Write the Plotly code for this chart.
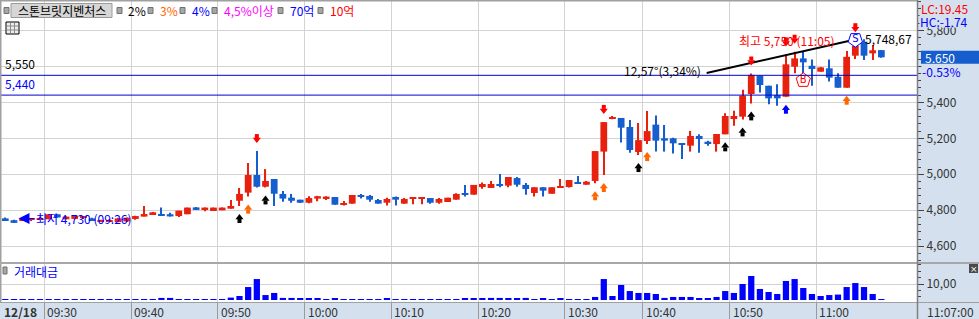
import plotly.graph_objects as go
import pandas as pd

W, H = 979, 319
FONT = "Noto Sans CJK KR"

# ---------------- data ----------------
all_minutes = pd.date_range("2023-12-18 09:25", "2023-12-18 11:07", freq="min").strftime("%H:%M").tolist()
times = [t for t in all_minutes if t != "10:36"]  # one minute without trades

opens = [4755, 4745, 4745, 4748, 4750, 4750, 4778, 4750, 4752, 4760,
         4755, 4740, 4738, 4735, 4738, 4752, 4765, 4778, 4779, 4778,
         4768, 4778, 4816, 4805, 4796, 4800, 4809, 4853, 4898, 4996,
         4931, 4974, 4891, 4870, 4859, 4842, 4865, 4865, 4874, 4833,
         4837, 4885, 4880, 4857, 4842, 4874, 4837, 4866, 4868, 4868,
         4842, 4846, 4859, 4896, 4887, 4929, 4924, 4941, 4937, 4979,
         4941, 4896, 4928, 4892, 4928, 4929, 4953, 4942, 4963, 5126,
         5308, 5313, 5263, 5124, 5185, 5276, 5200, 5200, 5167, 5159,
         5213, 5181, 5168, 5222, 5307, 5320, 5446, 5548, 5492, 5440,
         5431, 5598, 5644, 5603, 5570, 5589, 5542, 5481, 5659, 5737,
         5672, 5690]
highs = [4760, 4748, 4752, 4752, 4760, 4778, 4780, 4765, 4770, 4766,
         4758, 4748, 4745, 4758, 4760, 4770, 4824, 4790, 4815, 4787,
         4798, 4815, 4818, 4815, 4815, 4815, 4857, 4924, 5063, 5129,
         5029, 4974, 4907, 4891, 4859, 4878, 4880, 4878, 4874, 4852,
         4885, 4891, 4885, 4863, 4870, 4876, 4868, 4868, 4870, 4868,
         4868, 4870, 4894, 4941, 4941, 4954, 4963, 5002, 4985, 4985,
         4952, 4928, 4928, 4928, 4974, 4968, 4991, 4963, 5129, 5291,
         5324, 5313, 5302, 5285, 5352, 5326, 5274, 5203, 5172, 5241,
         5222, 5187, 5224, 5339, 5353, 5470, 5560, 5548, 5492, 5500,
         5666, 5681, 5681, 5638, 5596, 5638, 5561, 5685, 5720, 5750,
         5718, 5690]
lows = [4745, 4730, 4743, 4746, 4748, 4750, 4759, 4750, 4750, 4755,
        4745, 4738, 4735, 4733, 4735, 4747, 4765, 4778, 4772, 4766,
        4763, 4778, 4802, 4794, 4796, 4800, 4809, 4824, 4876, 4927,
        4927, 4824, 4848, 4842, 4840, 4839, 4850, 4857, 4831, 4826,
        4837, 4865, 4848, 4837, 4826, 4826, 4837, 4833, 4833, 4837,
        4837, 4846, 4859, 4876, 4887, 4920, 4924, 4928, 4928, 4931,
        4887, 4876, 4876, 4892, 4928, 4926, 4950, 4942, 4950, 4996,
        5306, 5176, 5120, 5107, 5168, 5126, 5126, 5116, 5085, 5126,
        5120, 5159, 5126, 5222, 5270, 5305, 5394, 5455, 5389, 5381,
        5431, 5561, 5561, 5492, 5570, 5515, 5481, 5481, 5640, 5635,
        5635, 5648]
closes = [4745, 4730, 4750, 4752, 4757, 4778, 4760, 4765, 4770, 4764,
          4746, 4745, 4743, 4755, 4759, 4768, 4779, 4789, 4772, 4766,
          4798, 4815, 4802, 4815, 4815, 4815, 4824, 4891, 4996, 4931,
          4963, 4892, 4865, 4853, 4842, 4868, 4878, 4876, 4831, 4840,
          4885, 4874, 4859, 4837, 4863, 4859, 4863, 4868, 4870, 4842,
          4863, 4870, 4891, 4887, 4941, 4946, 4946, 4937, 4985, 4942,
          4918, 4928, 4909, 4928, 4935, 4968, 4950, 4959, 5129, 5290,
          5311, 5259, 5135, 5190, 5240, 5187, 5187, 5172, 5163, 5213,
          5196, 5172, 5224, 5324, 5324, 5437, 5552, 5496, 5422, 5422,
          5611, 5644, 5622, 5585, 5594, 5537, 5481, 5653, 5715, 5659,
          5689, 5650]
trade_value = [0.5, 0.5, 0.5, 0.5, 0.5, 0.5, 0.5, 0.5, 0.5, 0.5,
               0.5, 0.5, 0.5, 0.5, 0.5, 0.5, 0.5, 0.5, 1.3, 1.3,
               0.5, 0.5, 0.5, 0.5, 0.5, 0.5, 1.5, 2.5, 8.1, 13.1,
               3.1, 4.4, 1.3, 1.3, 0.9, 0.9, 0.9, 0.5, 0.9, 0.5,
               0.5, 0.5, 0.5, 0.5, 0.9, 0.5, 0.5, 0.5, 0.5, 0.5,
               0.5, 0.5, 0.5, 0.9, 0.9, 0.9, 1.3, 1.3, 0.9, 0.9,
               1.3, 0.5, 0.9, 0.5, 0.9, 0.5, 0.5, 0.5, 1.9, 13.1,
               2.5, 9.4, 5.6, 4.4, 4.4, 3.75, 1.3, 1.9, 1.9, 1.9,
               0.9, 0.9, 1.9, 5.6, 4.4, 10.0, 15.0, 6.9, 5.0, 3.75,
               11.9, 13.1, 7.5, 3.75, 2.5, 3.1, 3.4, 8.1, 10.6, 8.1,
               3.75, 0.5]

date_label = "12/18"
tick_labels = ["09:30", "09:40", "09:50", "10:00", "10:10", "10:20", "10:30", "10:40", "10:50", "11:00"]
last_time_label = "11:07:00"
price_ticks = [4600, 4800, 5000, 5200, 5400, 5600, 5800]
volume_tick_vals = [10]
volume_tick_text = ["10,00"]

support_levels = [5550, 5440]
support_label_colors = ["#000000", "#0000FF"]
trend_x = [80.86, 98.0]
trend_y = [5563.0, 5748.67]
trend_left_text = "12,57°(3,34%)"
trend_right_text = "5,748,67"

stock_name = "스톤브릿지벤처스"
legend_texts = ["2%", "3%", "4%", "4,5%이상", "70억", "10억"]
legend_colors = ["#000000", "#FF6600", "#0000FF", "#FF00FF", "#0000FF", "#FF0000"]
lc_text = "LC:19,45"
hc_text = "HC:-1,74"
change_text = "-0,53%"
volume_title = "거래대금"

up_black = ["09:52", "09:55", "10:39", "10:49", "10:51", "10:52"]
up_orange = ["09:53", "10:33", "10:34", "10:40", "11:03"]
up_blue = ["10:56"]
down_red = ["09:54", "10:34", "10:52", "10:56", "10:57", "11:04"]
buy_mark = ["10:58"]
sell_mark = ["11:04"]

# ---------------- style ----------------
RED = "#E8210E"
BLUE = "#165ECE"
PANEL = "#D5E0EE"
GRID = "#D3D3D3"
BORDER = "#A0A0A0"

Y0, Y1 = 4512.7, 5968.4
MAIN_PX = 262.0
PX = (Y1 - Y0) / MAIN_PX
XR = [-0.611, 105.11]
XD = 917 / W
VOL_RANGE = [-1.25, 22.5]


def fx(px):
    return px / W


def fy(py):
    return 1 - py / H


def price_to_py(p):
    return (Y1 - p) / PX


x = list(range(len(times)))
colors = [RED if c >= o else BLUE for o, c in zip(opens, closes)]
body_base = [min(o, c) for o, c in zip(opens, closes)]
body_h = [max(abs(c - o), PX * 1.0) for o, c in zip(opens, closes)]
wick_h = [max(h - l, PX) for h, l in zip(highs, lows)]

fig = go.Figure()

fig.add_trace(go.Bar(x=x, y=wick_h, base=lows, width=0.13,
                     marker=dict(color=colors, line=dict(width=0)),
                     xaxis="x", yaxis="y", hoverinfo="skip"))
fig.add_trace(go.Bar(x=x, y=body_h, base=body_base, width=0.78,
                     marker=dict(color=colors, line=dict(width=0)),
                     xaxis="x", yaxis="y", hoverinfo="skip"))

fig.add_trace(go.Bar(x=x, y=trade_value, width=0.72,
                     marker=dict(color="#0000FF", line=dict(width=0)),
                     xaxis="x2", yaxis="y2", hoverinfo="skip"))

# trend line
fig.add_trace(go.Scatter(x=trend_x, y=trend_y, mode="lines",
                         line=dict(color="#000000", width=2),
                         xaxis="x", yaxis="y", hoverinfo="skip"))


def idx(ts):
    return [times.index(t) for t in ts]


def add_up(ts, color):
    ii = idx(ts)
    fig.add_trace(go.Scatter(x=ii, y=[lows[i] - 11.5 * PX for i in ii], mode="markers",
                             marker=dict(symbol="triangle-up", size=7, color=color, line=dict(width=0)),
                             hoverinfo="skip"))
    fig.add_trace(go.Scatter(x=ii, y=[lows[i] - 15 * PX for i in ii], mode="markers",
                             marker=dict(symbol="square", size=4, color=color, line=dict(width=0)),
                             hoverinfo="skip"))


def add_down(ts, color):
    ii = idx(ts)
    extra = [4.5 if times[i] in sell_mark else 0 for i in ii]
    fig.add_trace(go.Scatter(x=ii, y=[highs[i] + (11.5 + e) * PX for i, e in zip(ii, extra)], mode="markers",
                             marker=dict(symbol="triangle-down", size=7, color=color, line=dict(width=0)),
                             hoverinfo="skip"))
    fig.add_trace(go.Scatter(x=ii, y=[highs[i] + (15 + e) * PX for i, e in zip(ii, extra)], mode="markers",
                             marker=dict(symbol="square", size=4, color=color, line=dict(width=0)),
                             hoverinfo="skip"))


add_up(up_black, "#000000")
add_up(up_orange, "#FF6600")
add_up(up_blue, "#0000FF")
add_down(down_red, "#FF0000")

bi = idx(buy_mark)
fig.add_trace(go.Scatter(x=bi, y=[lows[i] - 7 * PX for i in bi], mode="markers+text", text=["B"] * len(bi),
                         textposition="middle center", textfont=dict(color="#FF0000", size=10, family="DejaVu Sans"),
                         marker=dict(symbol="pentagon", size=15, color="white", line=dict(color="#FF0000", width=1)),
                         hoverinfo="skip"))
si = idx(sell_mark)
fig.add_trace(go.Scatter(x=si, y=[highs[i] + 5 * PX for i in si], mode="markers+text", text=["S"] * len(si),
                         textposition="middle center", textfont=dict(color="#0000FF", size=10, family="DejaVu Sans"),
                         marker=dict(symbol="pentagon", angle=180, size=15, color="white",
                                     line=dict(color="#0000FF", width=1)),
                         hoverinfo="skip"))

tickpos = [times.index(t) - 0.5 for t in tick_labels]

# price tick labels: the one hidden behind the current-price box is left blank
cp = price_to_py(closes[-1])
price_ticktext = ["" if abs(price_to_py(v) - cp) < 14 else f"{v:,}" for v in price_ticks]

shapes = []
annotations = []


def note(text, x, y, xref="paper", yref="paper", xanchor="left", yanchor="middle", color="#333333",
         size=12, family=FONT, **kw):
    annotations.append(dict(text=text, x=x, y=y, xref=xref, yref=yref, xanchor=xanchor, yanchor=yanchor,
                            showarrow=kw.pop("showarrow", False),
                            font=dict(color=color, size=size, family=family), **kw))


# support lines
for lvl, col in zip(support_levels, support_label_colors):
    shapes.append(dict(type="line", xref="paper", yref="y", x0=0, x1=XD, y0=lvl, y1=lvl,
                       line=dict(color="#0000D0", width=1), layer="above"))
    note(f"{lvl:,}", fx(3), lvl, yref="y", yanchor="bottom", yshift=1, color=col)

# frame lines
shapes += [
    dict(type="line", xref="paper", yref="paper", x0=0, x1=XD, y0=fy(0.5), y1=fy(0.5),
         line=dict(color=BORDER, width=2)),
    dict(type="line", xref="paper", yref="paper", x0=fx(0.5), x1=fx(0.5), y0=fy(302), y1=1,
         line=dict(color=BORDER, width=2)),
    dict(type="rect", xref="paper", yref="paper", x0=0, x1=1, y0=fy(264), y1=fy(262),
         fillcolor="#A8A8A8", line=dict(width=0)),
    dict(type="line", xref="paper", yref="paper", x0=0, x1=1, y0=fy(302.5), y1=fy(302.5),
         line=dict(color=BORDER, width=1)),
    dict(type="line", xref="paper", yref="paper", x0=fx(917.5), x1=fx(917.5), y0=0, y1=1,
         line=dict(color="#808080", width=1.5)),
]

# legend row
sq_x = [4, 117, 148, 180, 212, 278, 318]
for sx in sq_x:
    shapes.append(dict(type="rect", xref="paper", yref="paper", x0=fx(sx), x1=fx(sx + 5),
                       y0=fy(13.5), y1=fy(7.5), fillcolor="#A6A6A6", line=dict(color="#707070", width=1)))
shapes.append(dict(type="rect", xref="paper", yref="paper", x0=fx(11), x1=fx(112), y0=fy(17.5), y1=fy(3.5),
                   fillcolor="#D6D6D6", line=dict(color="#9A9A9A", width=1)))
note(stock_name, fx(61.5), fy(10.5), xanchor="center", color="#000000")
leg_x = [126, 158, 190, 222, 288, 328]
for lx, t, c in zip(leg_x, legend_texts, legend_colors):
    note(t, fx(lx), fy(10.5), color=c)

# grid icon
shapes.append(dict(type="rect", xref="paper", yref="paper", x0=fx(6), x1=fx(19), y0=fy(34), y1=fy(22),
                   fillcolor="#EDEDED", line=dict(color="#000000", width=1)))
for gx in [10.5, 14.5]:
    shapes.append(dict(type="line", xref="paper", yref="paper", x0=fx(gx), x1=fx(gx), y0=fy(33), y1=fy(23),
                       line=dict(color="#8A8A8A", width=1)))
for gy in [26, 30]:
    shapes.append(dict(type="line", xref="paper", yref="paper", x0=fx(7), x1=fx(18), y0=fy(gy), y1=fy(gy),
                       line=dict(color="#8A8A8A", width=1)))

# volume panel label + close icon
shapes.append(dict(type="rect", xref="paper", yref="paper", x0=fx(3), x1=fx(7), y0=fy(274), y1=fy(267),
                   fillcolor="#A6A6A6", line=dict(color="#707070", width=1)))
note(volume_title, fx(12), fy(271), color="#0000FF")
shapes.append(dict(type="rect", xref="paper", yref="paper", x0=fx(969), x1=fx(978), y0=fy(273), y1=fy(264),
                   fillcolor="#4A4A4A", line=dict(width=0)))
note("×", fx(973.5), fy(268.5), xanchor="center", color="white", size=9, family="DejaVu Sans")

# high / low annotations
imax = max(range(len(highs)), key=lambda i: highs[i])
imin = min(range(len(lows)), key=lambda i: lows[i])
note(f"최고 {highs[imax]:,} ({times[imax]})", imax, highs[imax], xref="x", yref="y", xanchor="right",
     xshift=-27, yshift=-1, color="#FF0000")
note(f"최저 {lows[imin]:,} ({times[imin]})", imin, lows[imin], xref="x", yref="y", xanchor="left",
     xshift=4.5, yshift=4.3, color="#0000FF", showarrow=True, ax=16, ay=0,
     arrowhead=2, arrowsize=2.2, arrowwidth=1, arrowcolor="#0000FF")

# trend line labels
note(trend_left_text, trend_x[0], trend_y[0], xref="x", yref="y", xanchor="right", xshift=-4, yshift=2,
     color="#000000")
note(trend_right_text, trend_x[1], trend_y[1], xref="x", yref="y", xanchor="left", xshift=8, yshift=1,
     color="#000000")

# right panel texts
note(lc_text, fx(920), fy(8), color="#FF0000", borderpad=0, height=12, width=57, align="left")
note(hc_text, fx(919), fy(21.5), color="#0000FF", bgcolor=PANEL, borderpad=0, width=58, height=12, align="left")
shapes.append(dict(type="rect", xref="paper", yref="paper", x0=fx(921), x1=1, y0=fy(cp + 6.5), y1=fy(cp - 6.5),
                   fillcolor=BLUE, line=dict(width=0), layer="above"))
note(f"{closes[-1]:,}", fx(924), fy(cp), color="white", borderpad=0, height=12)
note(change_text, fx(921), fy(cp + 13.5), color="#0000FF", bgcolor=PANEL, borderpad=0, width=57, height=12,
     align="left")

# bottom time strip
note(f"<b>{date_label}</b>", fx(2), fy(311))
for tp, tl in zip(tickpos, tick_labels):
    note(tl, tp, fy(311), xref="x", xshift=1)
note(last_time_label, fx(925), fy(311))

fig.update_layout(
    width=W, height=H, margin=dict(l=0, r=0, t=0, b=0),
    paper_bgcolor=PANEL, plot_bgcolor="white", showlegend=False, barmode="overlay",
    font=dict(family=FONT, size=12, color="#333333"),
    separators=".,",
    xaxis=dict(domain=[0, XD], range=XR, tickmode="array", tickvals=tickpos, showticklabels=False,
               showgrid=True, gridcolor=GRID, gridwidth=1, zeroline=False, ticks="", anchor="y",
               fixedrange=True),
    xaxis2=dict(domain=[0, XD], range=XR, matches="x", anchor="y2", tickmode="array", tickvals=tickpos,
                showticklabels=False, ticks="outside", ticklen=16, tickcolor="#9A9A9A", tickwidth=1,
                showgrid=True, gridcolor=GRID, zeroline=False),
    yaxis=dict(domain=[fy(262), 1], range=[Y0, Y1], side="right", anchor="x", tickmode="array",
               tickvals=price_ticks, ticktext=price_ticktext, ticks="outside", ticklen=6, tickcolor="#444444",
               tickfont=dict(size=12, color="#333333", family=FONT), ticklabelstandoff=0,
               minor=dict(tick0=0, dtick=40, ticks="outside", ticklen=3, tickcolor="#444444", showgrid=False),
               showgrid=True, gridcolor=GRID, zeroline=False, showline=False),
    yaxis2=dict(domain=[fy(302), fy(264)], range=VOL_RANGE, side="right", anchor="x2", tickmode="array",
                tickvals=volume_tick_vals, ticktext=volume_tick_text, ticks="outside", ticklen=6,
                tickcolor="#444444", tickfont=dict(size=12, color="#333333", family=FONT), ticklabelstandoff=0,
                minor=dict(tick0=2, dtick=4, ticks="outside", ticklen=3, tickcolor="#444444", showgrid=False),
                showgrid=True, gridcolor=GRID, zeroline=False),
    shapes=shapes,
    annotations=annotations,
)

fig.write_html("out.html")
